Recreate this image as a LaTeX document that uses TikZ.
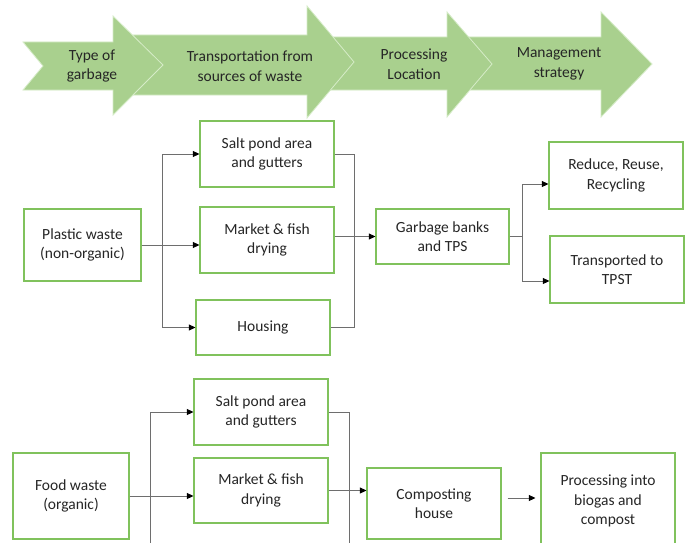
\documentclass[tikz,border=0pt]{standalone}
\usepackage{fontspec}
\setmainfont{Carlito}
\usetikzlibrary{arrows.meta}
\definecolor{arrowgreen}{RGB}{169,208,142}
\definecolor{arrowedge}{RGB}{214,236,200}
\definecolor{boxgreen}{RGB}{128,194,92}
\definecolor{linegray}{RGB}{110,110,110}
\definecolor{txt}{RGB}{38,38,38}
\tikzset{
  chev/.style={fill=arrowgreen, draw=arrowedge, line width=0.8pt, line join=miter},
  chevtext/.style={text=txt, align=center, font=\fontsize{15.5}{19.5}\selectfont},
  box/.style={draw=boxgreen, line width=1.2pt, fill=white, text=txt, align=center, inner sep=0pt, font=\fontsize{15.5}{19.5}\selectfont},
  conn/.style={draw=linegray, line width=0.9pt},
  arr/.style={conn, -{Triangle[length=6.5pt,width=6pt,color=black]}},
}
\begin{document}
\begin{tikzpicture}[x=1pt,y=-1pt]
\useasboundingbox (0,0) rectangle (688,543);
\fill[white] (0,0) rectangle (688,543);
\clip (0,0) rectangle (688,543);
% chevrons, back to front
\draw[chev] (462,37) -- (601,37) -- (601,12) -- (652,64) -- (601,117) -- (601,90) -- (462,90) -- (482,64) -- cycle;
\draw[chev] (326,37) -- (447,37) -- (447,12) -- (492,64) -- (447,117) -- (447,90) -- (326,90) -- (346,64) -- cycle;
\draw[chev] (133,35) -- (307,35) -- (307,6) -- (354,62) -- (307,118) -- (307,95) -- (133,95) -- (153,65) -- cycle;
\draw[chev] (23,42) -- (113,42) -- (113,16) -- (163,65) -- (113,115) -- (113,90) -- (23,90) -- (43,66) -- cycle;
\node[chevtext] (t1) at (92,66) {Type of\\garbage};
\node[chevtext] (t2) at (250,66) {Transportation from\\sources of waste};
\node[chevtext] (t3) at (414,64) {Processing\\Location};
\node[chevtext] (t4) at (559,64) {Management\\strategy};
% top boxes
\node[box, minimum width=117pt, minimum height=72pt] (plastic) at (82.5,245) {Plastic waste\\(non-organic)};
\node[box, minimum width=134pt, minimum height=66pt] (salt1) at (267,154) {Salt pond area\\and gutters};
\node[box, minimum width=134pt, minimum height=66pt] (market1) at (267,240) {Market \& fish\\drying};
\node[box, minimum width=134pt, minimum height=55pt] (housing) at (263,327.5) {Housing};
\node[box, minimum width=133pt, minimum height=55pt] (garbage) at (442.5,236.5) {Garbage banks\\and TPS};
\node[box, minimum width=134pt, minimum height=67pt] (reduce) at (616,175.5) {Reduce, Reuse,\\Recycling};
\node[box, minimum width=134pt, minimum height=67pt] (transp) at (617,269.5) {Transported to\\TPST};
% bottom boxes
\node[box, minimum width=116pt, minimum height=86pt] (food) at (71,496) {Food waste\\(organic)};
\node[box, minimum width=134pt, minimum height=66pt] (salt2) at (261,412) {Salt pond area\\and gutters};
\node[box, minimum width=134pt, minimum height=65pt] (market2) at (261,490.5) {Market \& fish\\drying};
\node[box, minimum width=134pt, minimum height=71pt] (compost) at (434,503.5) {Composting\\house};
\node[box, minimum width=134pt, minimum height=96pt] (proc) at (608,501) {Processing into\\biogas and\\compost};
% top connectors
\coordinate (b1) at (162,0);
\coordinate (m1) at (354,0);
\coordinate (b2) at (522,0);
\draw[arr] (plastic.east) -- (plastic.east -| market1.west);
\draw[arr] (b1 |- plastic.east) |- (salt1.west);
\draw[arr] (b1 |- plastic.east) |- (housing.west);
\draw[conn] (salt1.east) -| (m1 |- housing.east) -- (housing.east);
\draw[arr] (market1.east |- garbage.west) -- (garbage.west);
\draw[conn] (garbage.east) -- (b2 |- garbage.east);
\draw[arr] (b2 |- garbage.east) |- ([yshift=-8.5pt]reduce.west);
\draw[arr] (b2 |- garbage.east) |- ([yshift=-11.5pt]transp.west);
% bottom connectors
\coordinate (e3) at (150,560);
\coordinate (e4) at (349,560);
\draw[arr] (food.east) -- (food.east -| market2.west);
\draw[arr] (e3) |- (salt2.west);
\draw[conn] (salt2.east) -| (e4);
\draw[arr] (market2.east) -- (market2.east -| compost.west);
\draw[arr, shorten >=5pt] ([xshift=6pt,yshift=5.5pt]compost.east) coordinate (c1) -- (c1 -| proc.west);
\end{tikzpicture}
\end{document}
